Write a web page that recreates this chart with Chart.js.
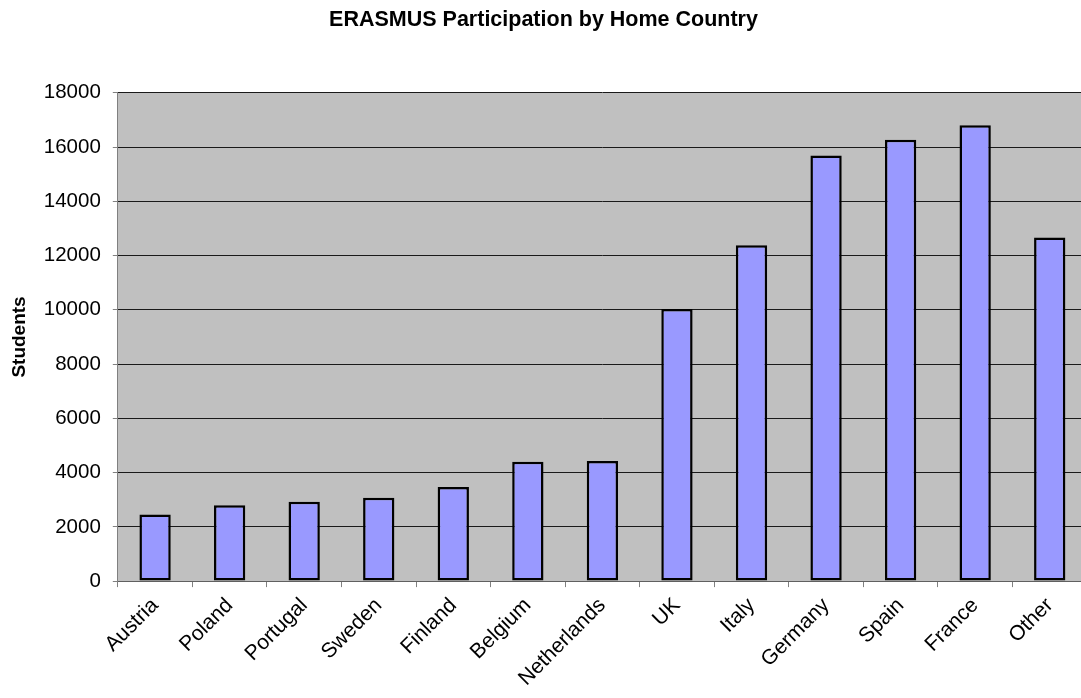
<!DOCTYPE html>
<html>
<head>
<meta charset="utf-8">
<script src="https://cdn.jsdelivr.net/npm/chart.js@4"></script>
<style>
  html, body { margin: 0; padding: 0; background: #fff; overflow: hidden; }
  #wrap { width: 1090px; height: 698px; }
</style>
</head>
<body>
<div id="wrap"><canvas id="erasmusChart"></canvas></div>
<script>
// ---- data ----
const countries = ['Austria', 'Poland', 'Portugal', 'Sweden', 'Finland', 'Belgium', 'Netherlands',
                   'UK', 'Italy', 'Germany', 'Spain', 'France', 'Other'];
const students = [2460, 2800, 2930, 3075, 3465, 4400, 4425, 10030, 12380, 15690, 16265, 16805, 12665];
const yTicks = [0, 2000, 4000, 6000, 8000, 10000, 12000, 14000, 16000, 18000];

const FONT = 'Liberation Sans, Arial, sans-serif';

// grey plot area behind the bars
const plotBackground = {
    id: 'plotBackground',
    beforeDraw(chart) {
        const { ctx, chartArea } = chart;
        ctx.save();
        ctx.fillStyle = '#C0C0C0';
        ctx.fillRect(chartArea.left, chartArea.top, chartArea.right - chartArea.left, chartArea.bottom - chartArea.top);
        ctx.restore();
    }
};

const ctx = document.getElementById('erasmusChart').getContext('2d');

new Chart(ctx, {
    type: 'bar',
    data: {
        labels: countries,
        datasets: [{
            label: 'Students',
            data: students,
            backgroundColor: '#9999FF',
            borderColor: '#000000',
            borderWidth: 2.5,
            borderSkipped: false,
            barPercentage: 0.42,
            categoryPercentage: 1.0
        }]
    },
    options: {
        responsive: true,
        maintainAspectRatio: false,
        animation: false,
        layout: { padding: { left: 0, right: 3, top: 0, bottom: 1 } },
        plugins: {
            legend: { display: false },
            tooltip: { enabled: false },
            title: {
                display: true,
                text: 'ERASMUS Participation by Home Country',
                color: '#000',
                font: { family: FONT, size: 21.5, weight: 'bold' },
                padding: { top: 7, bottom: 60 }
            }
        },
        scales: {
            x: {
                offset: true,
                grid: { offset: true, drawOnChartArea: false, tickLength: 6, color: '#808080' },
                border: { color: '#606060', width: 1 },
                ticks: {
                    color: '#000',
                    font: { family: FONT, size: 21 },
                    minRotation: 45, maxRotation: 45,
                    autoSkip: false, padding: 6
                }
            },
            y: {
                min: 0,
                max: 18000,
                afterBuildTicks(scale) { scale.ticks = yTicks.map(v => ({ value: v })); },
                grid: { color: '#1a1a1a', lineWidth: 1, tickLength: 5, tickColor: '#808080' },
                border: { color: '#808080', width: 1 },
                ticks: {
                    color: '#000',
                    font: { family: FONT, size: 20.5 },
                    padding: 12,
                    callback: (v) => String(v)
                },
                title: {
                    display: true,
                    text: 'Students',
                    color: '#000',
                    font: { family: FONT, size: 19, weight: 'bold' },
                    padding: { top: 8, bottom: 1 }
                }
            }
        }
    },
    plugins: [plotBackground]
});
</script>
</body>
</html>
